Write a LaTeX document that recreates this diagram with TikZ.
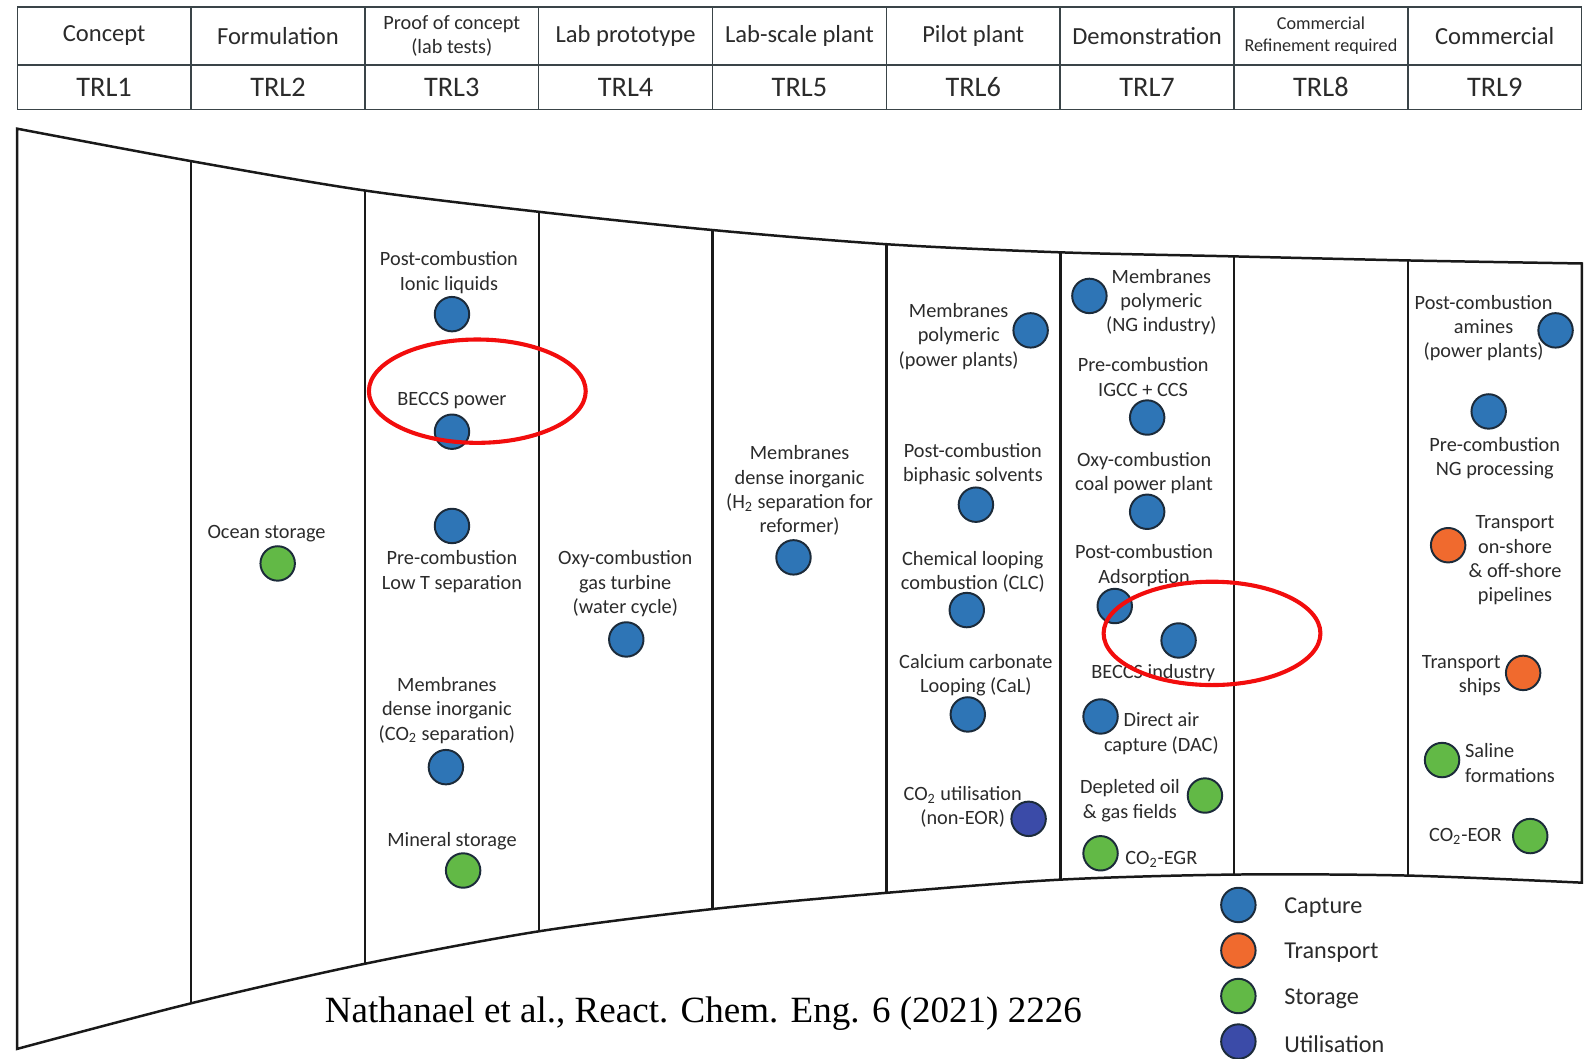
\documentclass[tikz,border=0pt]{standalone}
\usepackage{fontspec}
\setmainfont{Carlito}
\newfontfamily\citefont{Liberation Serif}
\usetikzlibrary{positioning}

\definecolor{capblue}{HTML}{2E75B6}
\definecolor{transorange}{HTML}{F06A2E}
\definecolor{storgreen}{HTML}{62B946}
\definecolor{utilblue}{HTML}{3B4BA8}
\definecolor{dotline}{HTML}{1C2B3A}
\definecolor{txtgray}{HTML}{2B2B2B}
\definecolor{rimgray}{HTML}{3A4448}
\definecolor{markred}{HTML}{F20D0D}

\begin{document}
\begin{tikzpicture}[x=0.02cm, y=-0.02cm]
        \tikzstyle{cell} = [draw=rimgray, line width=0.8pt, shape=rectangle, minimum
        width=3.4312cm, inner sep=0pt, outer sep=0pt, text=txtgray, align=center]
        \tikzstyle{headcell} = [cell, minimum height=1.14cm, font=\fontsize{13.8}{16}\selectfont]
        \tikzstyle{trlcell} = [cell, minimum height=0.88cm, font=\fontsize{15.9}{18}\selectfont]
        \tikzstyle{lbl} = [align=center, inner sep=0pt, yshift=-0.06cm, text=txtgray, font=\fontsize{11.4}{13.6}\selectfont]
        \tikzstyle{bubble} = [draw=dotline, line width=1.1pt, shape=circle, minimum size=0.68cm, inner sep=0pt]
        \tikzstyle{capture} = [bubble, fill=capblue]
        \tikzstyle{transport} = [bubble, fill=transorange]
        \tikzstyle{storage} = [bubble, fill=storgreen]
        \tikzstyle{utilisation} = [bubble, fill=utilblue]
        \tikzstyle{keytext} = [anchor=west, inner sep=0pt, yshift=-0.05cm, text=txtgray, font=\fontsize{13.6}{16}\selectfont]
        \tikzstyle{funnel} = [line width=1.4pt, black!90]
        \tikzstyle{redring} = [line width=2.3pt, markred]
        \useasboundingbox (0,0) rectangle (1568,1045);

        %Header table
        \node [headcell, anchor=north west] at (17,7) (concept) {Concept};
        \node [headcell, right=0pt of concept] (formulation) {Formulation};
        \node [headcell, right=0pt of formulation, font=\fontsize{11.4}{13.6}\selectfont] (proof) {Proof of concept\\(lab tests)};
        \node [headcell, right=0pt of proof] (labproto) {Lab prototype};
        \node [headcell, right=0pt of labproto] (labscale) {Lab-scale plant};
        \node [headcell, right=0pt of labscale] (pilot) {Pilot plant};
        \node [headcell, right=0pt of pilot] (demo) {Demonstration};
        \node [headcell, right=0pt of demo, font=\fontsize{10.2}{12.4}\selectfont] (refine) {Commercial\\Refinement required};
        \node [headcell, right=0pt of refine] (commercial) {Commercial};
        \node [trlcell, below=0pt of concept] (trl1) {TRL1};
        \node [trlcell, right=0pt of trl1] (trl2) {TRL2};
        \node [trlcell, right=0pt of trl2] (trl3) {TRL3};
        \node [trlcell, right=0pt of trl3] (trl4) {TRL4};
        \node [trlcell, right=0pt of trl4] (trl5) {TRL5};
        \node [trlcell, right=0pt of trl5] (trl6) {TRL6};
        \node [trlcell, right=0pt of trl6] (trl7) {TRL7};
        \node [trlcell, right=0pt of trl7] (trl8) {TRL8};
        \node [trlcell, right=0pt of trl8] (trl9) {TRL9};

        %Funnel outline and columns
        \draw [funnel] plot [smooth] coordinates {(17,127) (188.6,159) (360.1,188) (531.7,209) (703.2,227)
            (874.8,241) (1046.4,249) (1217.9,253) (1389.5,257) (1561,260)}
            -- plot [smooth] coordinates {(1561,871) (1389.5,864) (1217.9,863) (1046.4,868) (874.8,881)
            (703.2,897) (531.7,919) (360.1,951) (188.6,990) (17,1035)} -- cycle;
        \draw [funnel] (188.6,159) -- (188.6,990);
        \draw [funnel] (360.1,188) -- (360.1,951);
        \draw [funnel] (531.7,209) -- (531.7,919);
        \draw [funnel] (703.2,227) -- (703.2,897);
        \draw [funnel] (874.8,241) -- (874.8,881);
        \draw [funnel] (1046.4,249) -- (1046.4,868);
        \draw [funnel] (1217.9,253) -- (1217.9,863);
        \draw [funnel] (1389.5,257) -- (1389.5,864);

        %TRL2
        \node [lbl] at (263,524) (ocean) {Ocean storage};
        \node [storage] at (274,556) (oceandot) {};
        %TRL3
        \node [lbl] at (443,266) (ionic) {Post-combustion\\Ionic liquids};
        \node [capture] at (446,310) (ionicdot) {};
        \node [lbl] at (446,392) (beccsp) {BECCS power};
        \node [capture] at (446,426) (beccspdot) {};
        \node [capture] at (446,519) (lowtdot) {};
        \node [lbl] at (446,561) (lowt) {Pre-combustion\\Low T separation};
        \node [lbl] at (441,698) (memco) {Membranes\\dense inorganic\\(CO\textsubscript{2} separation)};
        \node [capture] at (440,757) (memcodot) {};
        \node [lbl] at (446,827) (mineral) {Mineral storage};
        \node [storage] at (457,859) (mineraldot) {};
        %TRL4
        \node [lbl] at (617,573) (oxygt) {Oxy-combustion\\gas turbine\\(water cycle)};
        \node [capture] at (618,631) (oxygtdot) {};
        %TRL5
        \node [lbl] at (789,481) (memh) {Membranes\\dense inorganic\\(H\textsubscript{2} separation for\\reformer)};
        \node [capture] at (783,550) (memhdot) {};
        %TRL6
        \node [lbl] at (946,329) (mempp) {Membranes\\polymeric\\(power plants)};
        \node [capture] at (1017,326) (memppdot) {};
        \node [lbl] at (960,455) (biphasic) {Post-combustion\\biphasic solvents};
        \node [capture] at (963,498) (biphasicdot) {};
        \node [lbl] at (960,561) (clc) {Chemical looping\\combustion (CLC)};
        \node [capture] at (954,602) (clcdot) {};
        \node [lbl] at (963,663) (cal) {Calcium carbonate\\Looping (CaL)};
        \node [capture] at (955,705) (caldot) {};
        \node [lbl] at (950,793) (util) {CO\textsubscript{2} utilisation\\(non-EOR)};
        \node [utilisation] at (1015,808) (utildot) {};
        %TRL7
        \node [capture] at (1075,292) (memngdot) {};
        \node [lbl] at (1146,295) (memng) {Membranes\\polymeric\\(NG industry)};
        \node [lbl] at (1128,369) (igcc) {Pre-combustion\\IGCC + CCS};
        \node [capture] at (1132,412) (igccdot) {};
        \node [lbl] at (1129,464) (oxycoal) {Oxy-combustion\\coal power plant};
        \node [capture] at (1132,505) (oxycoaldot) {};
        \node [lbl] at (1129,555) (adsorb) {Post-combustion\\Adsorption};
        \node [capture] at (1100,598) (adsorbdot) {};
        \node [capture] at (1163,632) (beccsidot) {};
        \node [lbl] at (1138,661) (beccsi) {BECCS industry};
        \node [capture] at (1086,707) (dacdot) {};
        \node [lbl] at (1146,721) (dac) {Direct air\\capture (DAC)};
        \node [lbl] at (1115,787) (depleted) {Depleted oil\\\& gas fields};
        \node [storage] at (1189,785) (depleteddot) {};
        \node [storage] at (1086,842) (egrdot) {};
        \node [lbl] at (1146,845) (egr) {CO\textsubscript{2}-EGR};
        %TRL9
        \node [lbl] at (1464,321) (amines) {Post-combustion\\amines\\(power plants)};
        \node [capture] at (1535,326) (aminesdot) {};
        \node [capture] at (1469,406) (ngdot) {};
        \node [lbl] at (1475,449) (ngproc) {Pre-combustion\\NG processing};
        \node [transport] at (1429,538) (pipedot) {};
        \node [lbl] at (1495,550) (pipe) {Transport\\on-shore\\\& off-shore\\pipelines};
        \node [lbl, align=right] at (1442,664) (ships) {Transport\\ships};
        \node [transport] at (1503,664) (shipsdot) {};
        \node [storage] at (1423,750) (salinedot) {};
        \node [lbl, align=left] at (1490,750) (saline) {Saline\\formations};
        \node [lbl] at (1446,822) (eor) {CO\textsubscript{2}-EOR};
        \node [storage] at (1510,825) (eordot) {};

        %Highlights
        \draw [redring] (471,386) ellipse [x radius=2.14cm, y radius=1.02cm];
        \draw [redring] (1196,625) ellipse [x radius=2.14cm, y radius=1.02cm];

        %Legend
        \node [capture] at (1222,893) (keycap) {};
        \node [transport, below=0.18cm of keycap] (keytrans) {};
        \node [storage, below=0.18cm of keytrans] (keystor) {};
        \node [utilisation, below=0.18cm of keystor] (keyutil) {};
        \node [keytext, right=0.54cm of keycap] (capname) {Capture};
        \node [keytext, right=0.54cm of keytrans] (transname) {Transport};
        \node [keytext, right=0.54cm of keystor] (storname) {Storage};
        \node [keytext, right=0.54cm of keyutil] (utilname) {Utilisation};

        \node [inner sep=0pt, font=\citefont\fontsize{20.8}{24}\selectfont] at (694,1000) (cite) {Nathanael et al., React. Chem. Eng. 6 (2021) 2226};
\end{tikzpicture}
\end{document}
